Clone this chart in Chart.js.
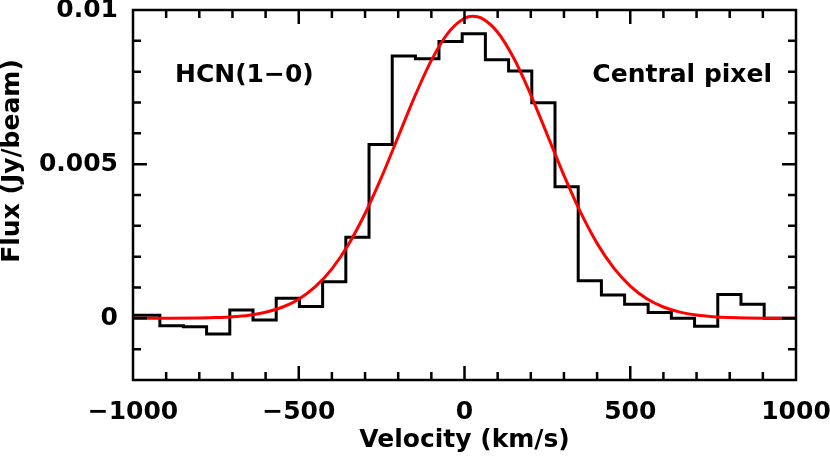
<!DOCTYPE html>
<html>
<head>
<meta charset="utf-8">
<script src="https://cdn.jsdelivr.net/npm/chart.js@4.4.1/dist/chart.umd.min.js"></script>
<style>
  body { margin: 0; background: #fff; }
</style>
</head>
<body>
<canvas id="grafico" width="830" height="458"></canvas>
<script>
// Espectro HCN(1-0), pixel central: borde izquierdo de cada canal (km/s) y flujo (Jy/beam)
const velCanal = [-1000, -919, -848, -778, -708, -638, -568, -498, -428, -358, -288, -218, -148, -77,
  -7, 63, 133, 203, 273, 343, 413, 483, 554, 624, 694, 764, 834, 904];
const flujoObs = [0.0001, -0.00024, -0.00027, -0.00051, 0.00027, -0.00005, 0.00065, 0.00038, 0.00119, 0.00263,
  0.00564, 0.00851, 0.00842, 0.00898, 0.00923, 0.00839, 0.00802, 0.00699, 0.00427, 0.00122,
  0.00076, 0.00046, 0.00019, 0.0, -0.00026, 0.00077, 0.00046, 0.0];

// Ajuste gaussiano
const velAjuste = [-1000, -900, -800, -750, -700, -650, -600, -550, -500, -450, -400, -350, -300, -250,
  -200, -150, -100, -50, 0, 25, 50, 100, 150, 200, 250, 300, 350, 400, 450, 500, 550, 600, 650,
  700, 750, 800, 900, 1000];
const flujoAjuste = [0, 0.000002, 0.000011, 0.000024, 0.000051, 0.000103, 0.000197, 0.000359, 0.000622,
  0.001025, 0.001606, 0.002395, 0.003399, 0.004587, 0.005891, 0.007197, 0.008366, 0.009252, 0.009734,
  0.0098, 0.009744, 0.009279, 0.008409, 0.007248, 0.005944, 0.004638, 0.003443, 0.002431, 0.001634,
  0.001045, 0.000635, 0.000368, 0.000202, 0.000106, 0.000053, 0.000025, 0.000002, 0];

// Marcas de los ejes
const xTicks = [-1000, -500, 0, 500, 1000];
const xTickLabels = ['\u22121000', '\u2212500', '0', '500', '1000'];
const xMenores = [-900, -800, -700, -600, -400, -300, -200, -100, 100, 200, 300, 400, 600, 700, 800, 900];
const yTicks = [0, 0.005, 0.01];
const yTickLabels = ['0', '0.005', '0.01'];
const yMenores = [-0.001, 0.001, 0.002, 0.003, 0.004, 0.006, 0.007, 0.008, 0.009];

const FUENTE = 'DejaVu Sans';
Chart.defaults.font.family = FUENTE;
Chart.defaults.font.weight = 'bold';
Chart.defaults.color = '#000';

const puntosObs = velCanal.map((v, i) => ({ x: v, y: flujoObs[i] }));
puntosObs.push({ x: 1000, y: flujoObs[flujoObs.length - 1] });
const puntosAjuste = velAjuste.map((v, i) => ({ x: v, y: flujoAjuste[i] }));

// Marco con marcas hacia dentro en los cuatro lados, y textos
const marco = {
  id: 'marco',
  afterDatasetsDraw(chart) {
    const { ctx, chartArea: a, scales: { x, y } } = chart;
    ctx.save();
    ctx.strokeStyle = '#000';
    ctx.lineWidth = 2.5;
    ctx.beginPath();
    const marcaX = (v, len) => {
      const px = x.getPixelForValue(v);
      ctx.moveTo(px, a.bottom); ctx.lineTo(px, a.bottom - len);
      ctx.moveTo(px, a.top); ctx.lineTo(px, a.top + len);
    };
    const marcaY = (v, len) => {
      const py = y.getPixelForValue(v);
      ctx.moveTo(a.left, py); ctx.lineTo(a.left + len, py);
      ctx.moveTo(a.right, py); ctx.lineTo(a.right - len, py);
    };
    xTicks.slice(1, -1).forEach(v => marcaX(v, 14));
    xMenores.forEach(v => marcaX(v, 8));
    yTicks.slice(0, -1).forEach(v => marcaY(v, 14));
    yMenores.forEach(v => marcaY(v, 8));
    ctx.stroke();
    ctx.strokeRect(a.left, a.top, a.right - a.left, a.bottom - a.top);

    ctx.fillStyle = '#000';
    ctx.font = 'bold 25px "' + FUENTE + '"';
    ctx.textBaseline = 'alphabetic';
    ctx.textAlign = 'left';
    ctx.fillText('HCN(1\u22120)', 175, 82);
    ctx.textAlign = 'right';
    ctx.fillText('Central pixel', 772, 82);

    // título del eje y
    ctx.translate(19, 161);
    ctx.rotate(-Math.PI / 2);
    ctx.textAlign = 'center';
    ctx.fillText('Flux (Jy/beam)', 0, 0);
    ctx.restore();
  }
};

const ctx = document.getElementById('grafico').getContext('2d');
const grafico = new Chart(ctx, {
  type: 'line',
  data: {
    datasets: [
      {
        label: 'HCN(1-0)',
        data: puntosObs,
        stepped: true,
        borderColor: '#000',
        borderWidth: 3,
        pointRadius: 0,
        fill: false,
        order: 1
      },
      {
        label: 'Ajuste',
        data: puntosAjuste,
        cubicInterpolationMode: 'monotone',
        borderColor: '#ff0000',
        borderWidth: 3,
        pointRadius: 0,
        fill: false,
        order: 0
      }
    ]
  },
  options: {
    responsive: false,
    animation: false,
    devicePixelRatio: 1,
    layout: { padding: { top: 10, right: 34, bottom: 0, left: 0 } },
    plugins: { legend: { display: false }, tooltip: { enabled: false } },
    scales: {
      x: {
        type: 'linear',
        min: -1000,
        max: 1000,
        grid: { display: false, drawTicks: false },
        border: { display: false },
        afterBuildTicks: s => { s.ticks = xTicks.map(v => ({ value: v })); },
        afterFit: s => { s.height = 78; s.paddingLeft = 0; s.paddingRight = 0; },
        ticks: {
          padding: 17,
          maxRotation: 0,
          autoSkip: false,
          font: { size: 25 },
          callback: (v) => xTickLabels[xTicks.indexOf(v)]
        },
        title: {
          display: true,
          text: 'Velocity (km/s)',
          font: { size: 25 },
          padding: { top: 0, bottom: 3 }
        }
      },
      y: {
        type: 'linear',
        min: -0.002,
        max: 0.01,
        grid: { display: false, drawTicks: false },
        border: { display: false },
        afterBuildTicks: s => { s.ticks = yTicks.map(v => ({ value: v })); },
        afterFit: s => { s.width = 133; s.paddingTop = 0; s.paddingBottom = 0; },
        ticks: {
          padding: 15,
          autoSkip: false,
          font: { size: 25 },
          callback: (v) => yTickLabels[yTicks.indexOf(v)]
        }
      }
    }
  },
  plugins: [marco]
});
</script>
</body>
</html>
